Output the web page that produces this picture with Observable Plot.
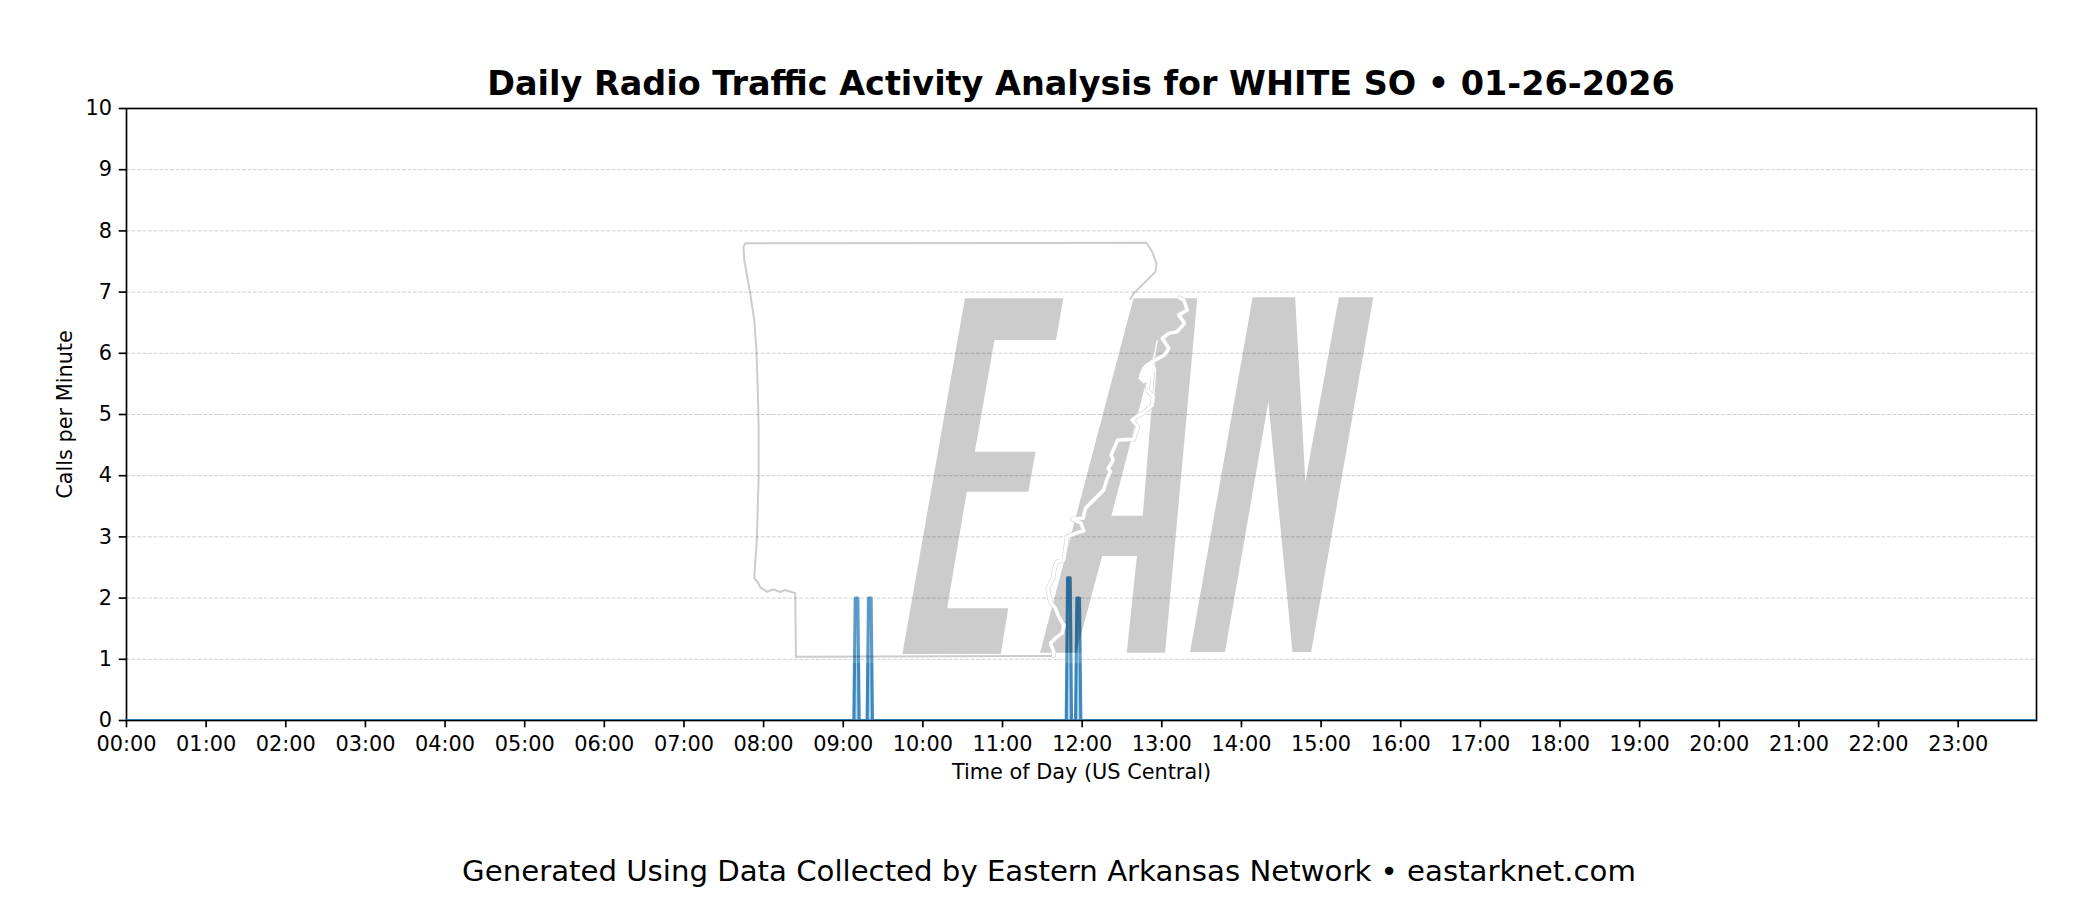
<!DOCTYPE html>
<html><head><meta charset="utf-8">
<style>
html,body{margin:0;padding:0;background:#fff;width:2100px;height:900px;overflow:hidden;font-family:"DejaVu Sans",sans-serif;color:#000}
#title{position:relative;z-index:2;height:96px;box-sizing:border-box;text-align:center;font-weight:700;font-size:33.45px;line-height:40px;padding-top:64px;padding-left:62px}
#chart svg{display:block}
#caption{text-align:center;font-size:29.2px;line-height:40px;padding-top:11px;margin-left:-2px}
</style>
<script src="https://cdn.jsdelivr.net/npm/d3@7"></script>
<script src="https://cdn.jsdelivr.net/npm/@observablehq/plot@0.6"></script>
</head><body>
<div id="title">Daily Radio Traffic Activity Analysis for WHITE SO • 01-26-2026</div>
<div id="chart"></div>
<div id="caption">Generated Using Data Collected by Eastern Arkansas Network • eastarknet.com</div>
<script>
const minuteOfDay = [0,548,549,551,552,558,559,561,562,708,709,711,712,715,716,718,719,1439];
const callsPerMinute = [0,0,2,2,0,0,2,2,0,0,2.33,2.33,0,0,2,2,0,0];
const hourTicks = [0,60,120,180,240,300,360,420,480,540,600,660,720,780,840,900,960,1020,1080,1140,1200,1260,1320,1380];
const hourLabels = ["00:00","01:00","02:00","03:00","04:00","05:00","06:00","07:00","08:00","09:00","10:00","11:00","12:00","13:00","14:00","15:00","16:00","17:00","18:00","19:00","20:00","21:00","22:00","23:00"];
const yTicks = [0,1,2,3,4,5,6,7,8,9,10];
const gridValues = [1,2,3,4,5,6,7,8,9];

// Watermark artwork, in its own 700 x 450 image coordinates
const letterE = [[244.6,78.3],[342.9,78.3],[335.7,120],[274.1,120],[254.5,231.7],[315.2,231.7],[308,271.7],[246.4,271.7],[226.8,388.3],[287.9,388.3],[280.4,434],[182.1,434]];
const letterA = [[436.6,78.3],[436.6,120],[391,295.7],[422.3,295.7],[436.6,120],[436.6,78.3],[476.8,78.3],[444.6,432.7],[406.3,432.7],[416.5,336],[381.7,336],[355.8,432.7],[319.6,432.7],[413,78.3]];
const letterN = [[532.1,77.3],[574.6,77.3],[584.8,261.7],[618.3,77.3],[652.7,77.3],[590.6,432],[571.9,432],[547.8,181.7],[504.5,432],[469.6,432]];
const stateBorder = [[410,79],[413.3,73.3],[421.7,65],[435,51.7],[436,43.3],[431.7,31.7],[426,22.7],[25,23.3],[23.3,26.7],[24,40],[30,73.3],[34,100],[36,126.7],[37.5,166.7],[38.4,206.7],[38.4,256.7],[36.6,320],[34,358.3],[37.3,361.7],[40,367.3],[46.7,371.7],[53.3,369.3],[60,372],[65,370],[75,373.3],[75.7,436.7],[333.3,436]];
const riverBorder = [[333.3,436],[333.3,431.7],[330,423.3],[336,417.3],[341.7,413.3],[343.3,405],[338.3,396.7],[335,388.3],[330,381.7],[327.3,368.3],[332.7,358.3],[334,348.3],[336.7,341.7],[343.3,340],[346,323.3],[346.7,316.7],[355,313.3],[363.3,310.7],[360.7,303.3],[352,299],[362.7,298.3],[365,288.3],[375,278.3],[383.3,270],[386.7,258.3],[390,251.7],[387.7,248.3],[392.7,240],[390.7,235],[397.3,220],[413.3,219.3],[417.3,206.7],[411.7,200],[417.3,196],[423.3,192.7],[431.7,185],[432.7,176.7],[426.7,170],[428.3,160],[420,158.3],[423.3,148.3],[431.7,141.7],[444,135],[448.3,128.3],[441.7,118.3],[448.3,113.3],[456.7,111.7],[464,103.3],[458.3,95],[466.7,90],[463.3,80],[459.3,78]];
const riverBranch = [[436.7,120.7],[435,130],[432.7,140.7],[435,150],[434,166.7],[432.7,183.3]];
const oxbow = [[431.7,141.7],[425,145],[420,153.3],[419,158.3],[423.3,162.7],[428.3,159.3],[435,149.3]];
// Parts of the image's pale backdrop that lie over the traffic spikes [minute1, minute2, calls1, calls2]
const paleBackdrop = [[540,570,0.93,2.5],[700,725,0.93,1.1]];

const traffic = minuteOfDay.map((m,i)=>({m,c:callsPerMinute[i]}));
const logoX = d3.scaleLinear([0,700],[447.3,975.0]);
const logoY = d3.scaleLinear([0,450],[8.178,0.825]);
const lx = d=>logoX(d[0]), ly = d=>logoY(d[1]);

const chart = Plot.plot({
  width:2100, height:744,
  marginLeft:126, marginRight:64, marginTop:12, marginBottom:120,
  style:{fontFamily:"DejaVu Sans",fontSize:"20.83px",color:"#000",background:"transparent"},
  x:{domain:[0,1439]},
  y:{domain:[0,10]},
  marks:[
    Plot.ruleY(gridValues,{stroke:"#000",strokeOpacity:0.19,strokeWidth:1,strokeDasharray:"3.85,1.67"}),
    Plot.areaY(traffic,{x:"m",y:"c",fill:"#1f77b4",fillOpacity:0.3,clip:true}),
    Plot.frame({stroke:"#000",strokeWidth:1.67}),
    Plot.line(traffic,{x:"m",y:"c",stroke:"#1f77b4",strokeWidth:3.1,strokeOpacity:0.85,clip:true}),
    Plot.rect(paleBackdrop,{x1:d=>d[0],x2:d=>d[1],y1:d=>d[2],y2:d=>d[3],fill:"#fff",fillOpacity:0.16,inset:0}),
    Plot.line(letterE,{x:lx,y:ly,fill:"#000",fillOpacity:0.2,stroke:"none"}),
    Plot.line(letterA,{x:lx,y:ly,fill:"#000",fillOpacity:0.2,stroke:"none"}),
    Plot.line(letterN,{x:lx,y:ly,fill:"#000",fillOpacity:0.2,stroke:"none"}),
    Plot.line(stateBorder,{x:lx,y:ly,stroke:"#000",strokeOpacity:0.2,strokeWidth:2}),
    Plot.line(riverBorder,{x:lx,y:ly,stroke:"#d2d2d2",strokeWidth:4.6}),
    Plot.line(riverBranch,{x:lx,y:ly,stroke:"#d2d2d2",strokeWidth:2.6}),
    Plot.line(riverBorder,{x:lx,y:ly,stroke:"#fff",strokeWidth:3.4}),
    Plot.line(riverBranch,{x:lx,y:ly,stroke:"#fff",strokeWidth:1.2}),
    Plot.line(oxbow,{x:lx,y:ly,fill:"#fff",stroke:"#fff",strokeWidth:1.5}),
    Plot.axisX({ticks:hourTicks,tickFormat:m=>hourLabels[hourTicks.indexOf(m)],tickSize:7.3,strokeWidth:1.67,tickPadding:8.3,fontSize:20.83,label:"Time of Day (US Central)",labelAnchor:"center",labelArrow:"none",labelOffset:58}),
    Plot.axisY({ticks:yTicks,tickFormat:d=>String(d),tickSize:7.3,strokeWidth:1.67,tickPadding:7.3,fontSize:20.83,label:"Calls per Minute",labelAnchor:"center",labelArrow:"none",labelOffset:69})
  ]
});
document.getElementById("chart").append(chart);
</script>
</body></html>
